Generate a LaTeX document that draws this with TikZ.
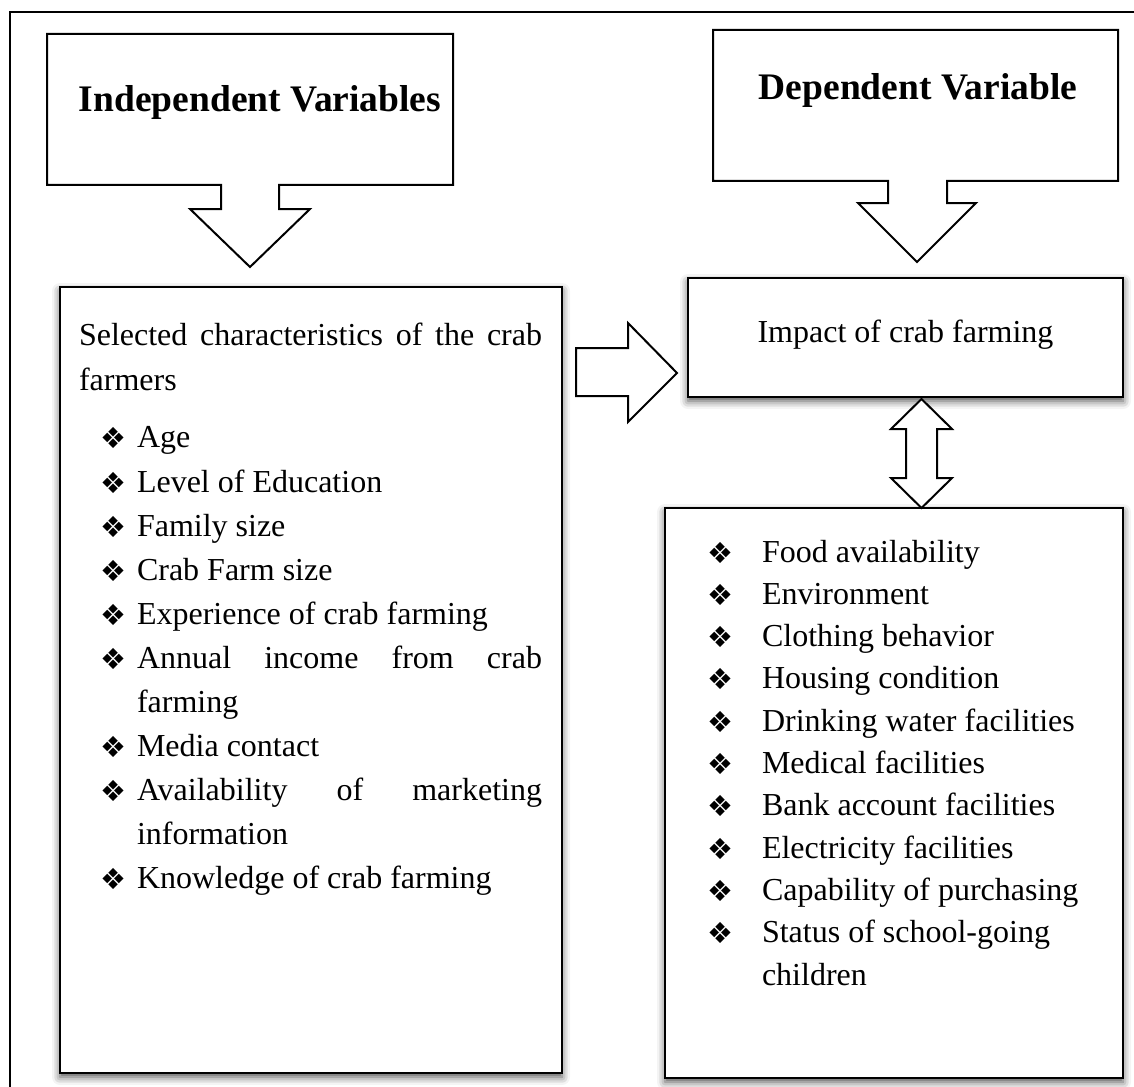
\documentclass[tikz,border=0pt]{standalone}
\usepackage{fontspec}
\setmainfont{Liberation Serif}
\newfontfamily\dingfont{DejaVu Sans}
\usetikzlibrary{shadows.blur}
\newcommand{\bul}{\raisebox{-1pt}{\dingfont\fontsize{29}{29}\selectfont ❖}}
\begin{document}
\begin{tikzpicture}[x=1pt,y=-1pt,
  every node/.style={inner sep=0pt, outer sep=0pt},
  frame/.style={line width=2pt},
  callout/.style={draw, line width=2pt, line join=miter, fill=white},
  box/.style={draw, line width=2.5pt, fill=white, anchor=north west,
    blur shadow={shadow xshift=0pt, shadow yshift=-4pt, shadow blur radius=8pt, shadow opacity=70}},
  blockarrow/.style={draw, line width=2pt, fill=white, line join=miter},
  body/.style={font=\fontsize{32}{38}\selectfont, anchor=base west},
  bulletnode/.style={anchor=base west},
  head/.style={font=\fontsize{37.5}{44}\selectfont\bfseries, anchor=base}
]
\useasboundingbox (0,0) rectangle (1134,1086);
% outer frame (open to the right and bottom)
\draw[frame] (10,1100) -- (10,12) -- (1150,12);

% callouts
\draw[callout] (47,34) -- (453,34) -- (453,185) -- (279,185) -- (279,209) -- (310,209)
  -- (250,267) -- (190,209) -- (221,209) -- (221,185) -- (47,185) -- cycle;
\node[head] (indep) at (260,112) {Independent Variables};

\draw[callout] (713,30) -- (1118,30) -- (1118,181) -- (947,181) -- (947,203) -- (976,203)
  -- (917,262) -- (858,203) -- (888,203) -- (888,181) -- (713,181) -- cycle;
\node[head] (dep) at (918,100) {Dependent Variable};

% boxes
\node[box, minimum width=502pt, minimum height=786pt] (lbox) at (60,287) {};
\node[box, minimum width=435pt, minimum height=119pt] (ibox) at (688,278) {};
\node[box, minimum width=458pt, minimum height=570pt] (rbox) at (665,508) {};

% block arrows
\draw[blockarrow] (576,348) -- (628,348) -- (628,323) -- (677,373) -- (628,422)
  -- (628,396) -- (576,396) -- cycle;
\draw[blockarrow] (921.5,399) -- (952,429) -- (937,429) -- (937,478) -- (952,478)
  -- (921.5,508) -- (891,478) -- (906,478) -- (906,429) -- (891,429) -- cycle;

% impact text
\node[body, anchor=base] (imp) at (905.5,342) {Impact of crab farming};

% left list
\node[body] (l0) at (79,345) {\hbox to 463pt{Selected\hfill characteristics\hfill of\hfill the\hfill crab}};
\node[body] (l1) at (79,390) {farmers};
\foreach \t/\y [count=\i] in {Age/447, Level of Education/492, Family size/536,
   Crab Farm size/580, Experience of crab farming/624, Media contact/756,
   Knowledge of crab farming/888}{
  \node[bulletnode] (lb\i) at (100,\y) {\bul};
  \node[body] (lt\i) at (137,\y) {\t};
}
\node[bulletnode] (lb8) at (100,668) {\bul};
\node[body] (lt8) at (137,668) {\hbox to 405pt{Annual\hfill income\hfill from\hfill crab}};
\node[body] (lt9) at (137,712) {farming};
\node[bulletnode] (lb10) at (100,800) {\bul};
\node[body] (lt10) at (137,800) {\hbox to 405pt{Availability\hfill of\hfill marketing}};
\node[body] (lt11) at (137,844) {information};

% right list
\foreach \t [count=\i from 0] in {Food availability, Environment, Clothing behavior,
   Housing condition, Drinking water facilities, Medical facilities,
   Bank account facilities, Electricity facilities, Capability of purchasing,
   Status of school-going}{
  \node[bulletnode] (rb\i) at (707,{562+42.3*\i}) {\bul};
  \node[body] (rt\i) at (762,{562+42.3*\i}) {\t};
}
\node[body] (rt10) at (762,985) {children};
\end{tikzpicture}
\end{document}
